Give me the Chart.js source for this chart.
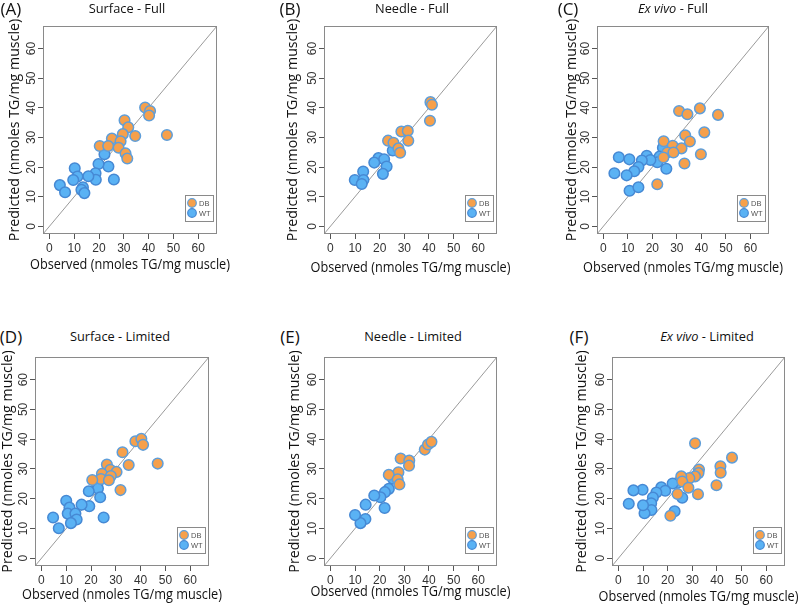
<!DOCTYPE html>
<html>
<head>
<meta charset="utf-8">
<script src="https://cdn.jsdelivr.net/npm/chart.js@4.4.0/dist/chart.umd.min.js"></script>
<style>
  body { margin: 0; background: #fff; width: 800px; height: 606px; position: relative; overflow: hidden; font-family: "Open Sans", sans-serif; font-weight: 400; }
  canvas { position: absolute; }
  .tag, .ttl { position: absolute; transform: translate(-50%, -50%); white-space: nowrap; color: #111; }
  .tag { font-size: 17px; }
  .ttl { font-size: 12.8px; }
</style>
</head>
<body>
<script>
// axis setup shared by every panel
const tickValues = [0, 10, 20, 30, 40, 50, 60];
const axisMin = -2.6;
const axisMax = 67.6;
const groups = ['DB', 'WT'];

// [observed, predicted] pairs
const surfaceFullDB = [[38.6,40.1],[40.6,38.9],[40.2,37.4],[30.3,35.8],[31.8,33.4],[29.6,31.1],[34.6,30.5],[47.4,30.8],[25.2,29.6],[28.7,28.7],[20.3,27.1],[23.7,27.1],[27.9,26.5],[30.7,24.6],[31.4,22.9]];
const surfaceFullWT = [[22.2,24.3],[23.8,20.2],[19.8,21.0],[18.6,17.9],[18.7,15.7],[15.7,16.9],[26.0,15.8],[10.2,19.6],[11.3,16.8],[9.6,15.6],[4.2,13.9],[6.3,11.5],[13.5,13.2],[12.9,12.3],[14.1,11.2]];

const needleFullDB = [[40.6,41.9],[41.2,41.0],[40.4,35.6],[28.8,32.0],[31.4,32.2],[31.6,28.9],[23.4,28.9],[25.6,28.2],[27.6,26.3],[28.3,24.8]];
const needleFullWT = [[25.3,25.6],[19.5,23.0],[21.8,22.6],[17.8,21.5],[22.8,20.2],[21.3,17.7],[13.3,18.5],[9.9,15.6],[13.4,15.6],[12.7,14.3]];

const exVivoFullDB = [[30.9,38.9],[34.3,37.8],[39.4,39.8],[46.8,37.6],[41.2,31.7],[33.4,30.7],[35.3,28.6],[24.6,28.7],[28.3,27.2],[31.9,26.3],[26.1,24.9],[28.6,24.9],[24.5,23.2],[33.1,21.2],[39.8,24.3],[22.0,14.2]];
const exVivoFullWT = [[24.3,26.5],[22.9,23.5],[22.0,21.6],[17.7,23.8],[19.2,22.4],[15.7,22.2],[14.3,20.0],[12.6,18.6],[9.5,17.2],[4.5,17.9],[6.3,23.3],[10.6,22.6],[25.7,19.4],[10.7,12.0],[14.3,13.2]];

const surfaceLimDB = [[37.9,39.3],[40.3,40.1],[41.0,38.1],[32.7,35.6],[35.2,31.3],[46.9,31.8],[26.4,31.5],[27.8,29.7],[30.3,29.0],[24.4,28.4],[28.0,27.6],[24.0,26.6],[27.2,26.2],[20.5,26.3],[31.9,22.9]];
const surfaceLimWT = [[22.5,24.6],[22.8,23.4],[23.7,20.5],[19.1,22.5],[19.3,17.5],[16.2,18.0],[25.1,13.7],[10.0,19.3],[11.3,17.0],[10.6,15.0],[13.7,15.0],[14.2,13.0],[11.9,11.8],[4.7,13.7],[7.0,10.1]];

const needleLimDB = [[38.3,36.5],[39.6,38.2],[41.0,39.1],[28.5,33.5],[32.0,32.8],[31.9,31.1],[27.6,28.9],[23.7,28.0],[27.3,26.5],[28.0,24.8]];
const needleLimWT = [[25.4,26.7],[23.7,23.3],[22.1,22.2],[20.3,20.5],[17.8,21.1],[22.0,16.9],[14.3,18.0],[14.2,13.2],[12.2,11.8],[10.0,14.5]];

const exVivoLimDB = [[31.1,38.6],[46.1,33.8],[41.4,30.9],[41.5,28.7],[39.8,24.5],[32.7,29.8],[32.5,28.6],[31.1,27.5],[28.8,26.9],[25.5,27.5],[25.9,25.8],[28.4,23.7],[24.0,21.6],[32.3,21.5],[21.1,14.3]];
const exVivoLimWT = [[23.9,25.3],[22.0,25.1],[25.9,20.3],[22.8,15.8],[17.4,23.8],[19.0,22.7],[15.4,22.1],[14.0,20.4],[13.3,18.5],[13.4,16.2],[10.6,15.1],[10.0,17.8],[9.8,23.0],[6.1,22.8],[4.2,18.3]];

const xTitle = 'Observed (nmoles TG/mg muscle)';
const yTitle = 'Predicted (nmoles TG/mg muscle)';

const dbFill = '#f6a04b', dbEdge = '#5f9ed9';
const wtFill = '#5ab2f4', wtEdge = '#4689d4';

// box = plot frame [left, top, right, bottom] on the page
const panels = [
  { tag: '(A)', title: 'Surface - Full', db: surfaceFullDB, wt: surfaceFullWT, box: [43, 26, 217, 234], tagX: 11, titleX: 127, headY: 8, yOff: 28, xOff: 31 },
  { tag: '(B)', title: 'Needle - Full', db: needleFullDB, wt: needleFullWT, box: [324, 26, 497, 234], tagX: 290, titleX: 412, headY: 8, yOff: 31, xOff: 34 },
  { tag: '(C)', title: '<i>Ex vivo</i> - Full', db: exVivoFullDB, wt: exVivoFullWT, box: [597, 26, 769, 234], tagX: 568, titleX: 673, headY: 8, yOff: 25, xOff: 34 },
  { tag: '(D)', title: 'Surface - Limited', db: surfaceLimDB, wt: surfaceLimWT, box: [35, 357, 209, 566], tagX: 11, titleX: 120, headY: 336, yOff: 27, xOff: 29 },
  { tag: '(E)', title: 'Needle - Limited', db: needleLimDB, wt: needleLimWT, box: [324, 357, 497, 566], tagX: 290, titleX: 413, headY: 336, yOff: 29, xOff: 26 },
  { tag: '(F)', title: '<i>Ex vivo</i> - Limited', db: exVivoLimDB, wt: exVivoLimWT, box: [612, 357, 785, 566], tagX: 579, titleX: 707, headY: 336, yOff: 30, xOff: 31 }
];

const Y_AREA = 45, X_AREA = 45, PAD_T = 8, PAD_R = 15;
const axisFont = { family: '"Open Sans"', size: 14.2, weight: 'normal', lineHeight: 1.2 };
const xTitleWidth = 200;

// frame, legend and the x title (drawn here so it can run wider than the plot)
const framePlugin = {
  id: 'frame',
  afterDraw(chart, args, opts) {
    const { ctx, chartArea: a } = chart;
    ctx.save();
    ctx.strokeStyle = '#8a8a8a';
    ctx.lineWidth = 1;
    ctx.strokeRect(a.left + 0.5, a.top + 0.5, a.right - a.left - 1, a.bottom - a.top - 1);

    const w = 28, h = 26;
    const lx = a.right - 4 - w, ly = a.bottom - 13 - h;
    ctx.fillStyle = '#fff';
    ctx.fillRect(lx, ly, w, h);
    ctx.strokeStyle = '#8a8a8a';
    ctx.strokeRect(lx + 0.5, ly + 0.5, w, h);
    groups.forEach((g, i) => {
      const cy = ly + 8 + i * 10;
      ctx.beginPath();
      ctx.arc(lx + 7, cy, 4.3, 0, Math.PI * 2);
      ctx.fillStyle = g === 'DB' ? dbFill : wtFill;
      ctx.fill();
      ctx.lineWidth = 1.2;
      ctx.strokeStyle = g === 'DB' ? dbEdge : wtEdge;
      ctx.stroke();
      ctx.fillStyle = '#555';
      ctx.font = '7.5px "Liberation Sans"';
      ctx.textAlign = 'left';
      ctx.textBaseline = 'middle';
      ctx.fillText(g, lx + 14, cy + 0.5);
    });

    ctx.fillStyle = '#111';
    ctx.font = `${axisFont.size}px ${axisFont.family}`;
    ctx.textAlign = 'center';
    ctx.textBaseline = 'middle';
    ctx.fillText(xTitle, (a.left + a.right) / 2, a.bottom + opts.xOff, xTitleWidth);
    ctx.restore();
  }
};

function toPoints(pairs) {
  return pairs.map(p => ({ x: p[0], y: p[1] }));
}

function addText(cls, html, x, y) {
  const d = document.createElement('div');
  d.className = cls;
  d.innerHTML = html;
  d.style.left = x + 'px';
  d.style.top = y + 'px';
  document.body.appendChild(d);
}

function makePanel(p) {
  const [l, t, r, b] = p.box;
  const canvas = document.createElement('canvas');
  const cw = (r - l) + Y_AREA + PAD_R;
  const ch = (b - t) + PAD_T + X_AREA;
  canvas.width = cw;
  canvas.height = ch;
  canvas.style.left = (l - Y_AREA) + 'px';
  canvas.style.top = (t - PAD_T) + 'px';
  document.body.appendChild(canvas);

  const lh = axisFont.size * axisFont.lineHeight;

  new Chart(canvas, {
    type: 'scatter',
    data: {
      datasets: [
        { label: 'DB', data: toPoints(p.db), backgroundColor: dbFill, borderColor: dbEdge, borderWidth: 1.5, pointRadius: 5.3 },
        { label: 'WT', data: toPoints(p.wt), backgroundColor: wtFill, borderColor: wtEdge, borderWidth: 1.5, pointRadius: 5.3 },
        { label: 'identity', data: [{ x: axisMin, y: axisMin }, { x: axisMax, y: axisMax }], showLine: true, borderColor: '#9a9a9a', borderWidth: 1, pointRadius: 0 }
      ]
    },
    options: {
      responsive: false,
      animation: false,
      layout: { padding: { top: PAD_T, right: PAD_R, left: 0, bottom: 0 } },
      plugins: { legend: { display: false }, tooltip: { enabled: false }, frame: { xOff: p.xOff } },
      scales: {
        x: {
          type: 'linear', min: axisMin, max: axisMax,
          afterBuildTicks: s => { s.ticks = tickValues.map(v => ({ value: v })); },
          afterFit: s => { s.height = X_AREA; },
          border: { display: false },
          grid: { drawOnChartArea: false, drawTicks: true, tickLength: 5, color: '#555' },
          ticks: { color: '#333', padding: 2, font: { family: 'Liberation Sans', size: 12 } },
          title: { display: false }
        },
        y: {
          type: 'linear', min: axisMin, max: axisMax,
          afterBuildTicks: s => { s.ticks = tickValues.map(v => ({ value: v })); },
          afterFit: s => { s.width = Y_AREA; },
          border: { display: false },
          grid: { drawOnChartArea: false, drawTicks: true, tickLength: 5, color: '#555' },
          ticks: { color: '#333', padding: 0, minRotation: 90, maxRotation: 90, crossAlign: 'center', font: { family: 'Liberation Sans', size: 12 } },
          title: { display: true, text: yTitle, color: '#111', font: axisFont, padding: { top: Y_AREA - p.yOff - lh / 2, bottom: 0 } }
        }
      }
    },
    plugins: [framePlugin]
  });

  addText('tag', p.tag, p.tagX, p.headY);
  addText('ttl', p.title, p.titleX, p.headY);
}

panels.forEach(makePanel);
</script>
</body>
</html>
